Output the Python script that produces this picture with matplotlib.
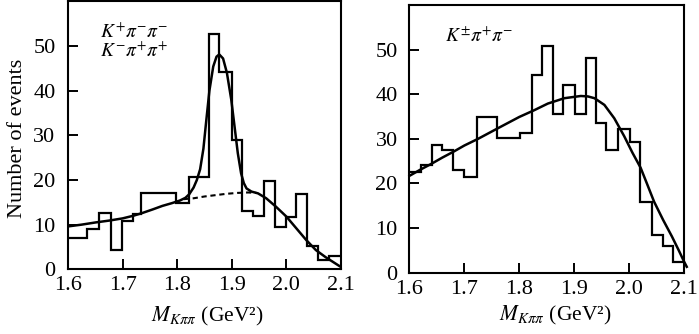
import matplotlib
matplotlib.use("Agg")
import matplotlib.pyplot as plt

plt.rcParams["font.family"] = ["Liberation Serif", "DejaVu Serif"]
plt.rcParams["mathtext.fontset"] = "stix"

# ---- K+pi-pi- / K-pi+pi+ sample ----
left_edges = [1.600, 1.634, 1.656, 1.678, 1.699, 1.719, 1.734, 1.797, 1.821,
              1.859, 1.876, 1.901, 1.918, 1.938, 1.959, 1.980, 1.999, 2.018,
              2.037, 2.058, 2.078, 2.100]
left_counts = [7.1, 9.0, 12.7, 4.3, 10.9, 12.4, 17.0, 14.8, 20.7, 52.6, 44.2,
               29.0, 13.0, 11.9, 19.8, 9.4, 11.6, 16.8, 5.2, 2.0, 2.9]

# fitted signal + background
left_fit_x = [1.600, 1.625, 1.651, 1.675, 1.700, 1.720, 1.736, 1.755, 1.773,
              1.790, 1.805, 1.815, 1.822, 1.830, 1.836, 1.842, 1.848, 1.853,
              1.859, 1.866, 1.872, 1.877, 1.884, 1.891, 1.899, 1.905, 1.911,
              1.917, 1.922, 1.927, 1.936, 1.948, 1.963, 1.981, 2.000, 2.018,
              2.036, 2.054, 2.072, 2.086, 2.100]
left_fit_y = [9.6, 10.0, 10.5, 10.9, 11.4, 12.0, 12.6, 13.4, 14.2,
              14.8, 15.4, 16.0, 16.8, 18.3, 20.0, 22.4, 27.0, 33.0,
              40.0, 45.4, 47.6, 48.1, 47.2, 44.0, 38.0, 32.0, 26.0,
              21.5, 19.3, 18.1, 17.4, 17.0, 15.9, 14.0, 11.8, 9.2,
              6.6, 4.3, 2.7, 1.6, 0.5]

# background under the peak
left_bg_x = [1.812, 1.830, 1.850, 1.870, 1.890, 1.910, 1.930, 1.945]
left_bg_y = [15.7, 15.9, 16.3, 16.6, 16.9, 17.1, 17.2, 17.1]

# ---- K(+-)pi+pi- sample ----
right_edges = [1.600, 1.621, 1.641, 1.659, 1.679, 1.700, 1.723, 1.759, 1.802,
               1.823, 1.841, 1.862, 1.879, 1.901, 1.921, 1.940, 1.958, 1.980,
               2.001, 2.020, 2.041, 2.062, 2.080, 2.100]
right_counts = [22.6, 24.1, 28.7, 27.5, 23.0, 21.4, 34.8, 30.2, 31.3, 44.3,
                50.8, 35.6, 42.1, 35.6, 48.2, 33.5, 27.4, 32.2, 29.2, 15.8,
                8.4, 6.0, 2.4]

right_fit_x = [1.600, 1.620, 1.640, 1.660, 1.680, 1.700, 1.725, 1.760, 1.800,
               1.827, 1.852, 1.882, 1.912, 1.925, 1.937, 1.955, 1.973, 1.991,
               2.006, 2.021, 2.033, 2.0455, 2.062, 2.078, 2.090, 2.100, 2.105]
right_fit_y = [21.7, 23.1, 24.4, 25.8, 27.1, 28.5, 30.0, 32.3, 34.9,
               36.4, 37.9, 39.1, 39.6, 39.5, 39.1, 37.6, 34.6, 30.6,
               26.9, 23.5, 19.8, 15.9, 11.8, 8.1, 5.1, 2.5, 1.3]

x_ticks = [1.6, 1.7, 1.8, 1.9, 2.0, 2.1]
x_ticklabels = ["1.6", "1.7", "1.8", "1.9", "2.0", "2.1"]
y_ticks = [0, 10, 20, 30, 40, 50]

xlabel = r"$M_{K\pi\pi}$ (GeV²)"
ylabel = "Number of events"

fig = plt.figure(figsize=(6.99, 3.34), dpi=100)
ax1 = fig.add_axes([68 / 699, (334 - 269.3) / 334, 273 / 699, 268 / 334])
ax2 = fig.add_axes([409.5 / 699, (334 - 272.6) / 334, 274.5 / 699, 267.6 / 334])

LW = 1.6
FIT_LW = 1.8
TICK_FS = 16
LABEL_FS = 15.5
NOTE_FS = 14


def style(ax, ypad):
    ax.set_xlim(1.6, 2.1)
    ax.set_ylim(0, 60)
    ax.set_xticks(x_ticks)
    ax.set_xticklabels(x_ticklabels)
    ax.set_yticks(y_ticks)
    ax.tick_params(direction="in", length=7, width=1.4, labelsize=TICK_FS,
                   top=False, right=False)
    ax.tick_params(axis="y", pad=ypad)
    ax.tick_params(axis="x", pad=5)
    for s in ax.spines.values():
        s.set_linewidth(1.5)
    ax.set_xlabel(xlabel, fontsize=LABEL_FS)
    ax.xaxis.label.set_verticalalignment("baseline")
    # the zero label sits a little up so it clears the first x label
    ax.get_yticklabels()[0].set_verticalalignment("center_baseline")


# left panel
ax1.stairs(left_counts, left_edges, baseline=None, color="black", lw=LW)
ax1.plot(left_fit_x, left_fit_y, color="black", lw=FIT_LW)
ax1.plot(left_bg_x, left_bg_y, color="black", lw=1.5, dashes=(2.5, 1.8))
style(ax1, 9)
ax1.xaxis.set_label_coords(0.509, -0.193)
ax1.set_ylabel(ylabel, fontsize=TICK_FS)
ax1.yaxis.set_label_coords(-0.150, 0.49)
ax1.text(0.117, 0.862, r"$K^{+}\pi^{-}\pi^{-}$", transform=ax1.transAxes,
         fontsize=NOTE_FS, ha="left", va="baseline")
ax1.text(0.117, 0.792, r"$K^{-}\pi^{+}\pi^{+}$", transform=ax1.transAxes,
         fontsize=NOTE_FS, ha="left", va="baseline")

# right panel
ax2.stairs(right_counts, right_edges, baseline=None, color="black", lw=LW)
ax2.plot(right_fit_x, right_fit_y, color="black", lw=FIT_LW, clip_on=False)
style(ax2, 8.5)
ax2.xaxis.set_label_coords(0.53, -0.18)
ax2.text(0.129, 0.863, r"$K^{\pm}\pi^{+}\pi^{-}$", transform=ax2.transAxes,
         fontsize=NOTE_FS, ha="left", va="baseline")

fig.savefig("out.png", dpi=100)
